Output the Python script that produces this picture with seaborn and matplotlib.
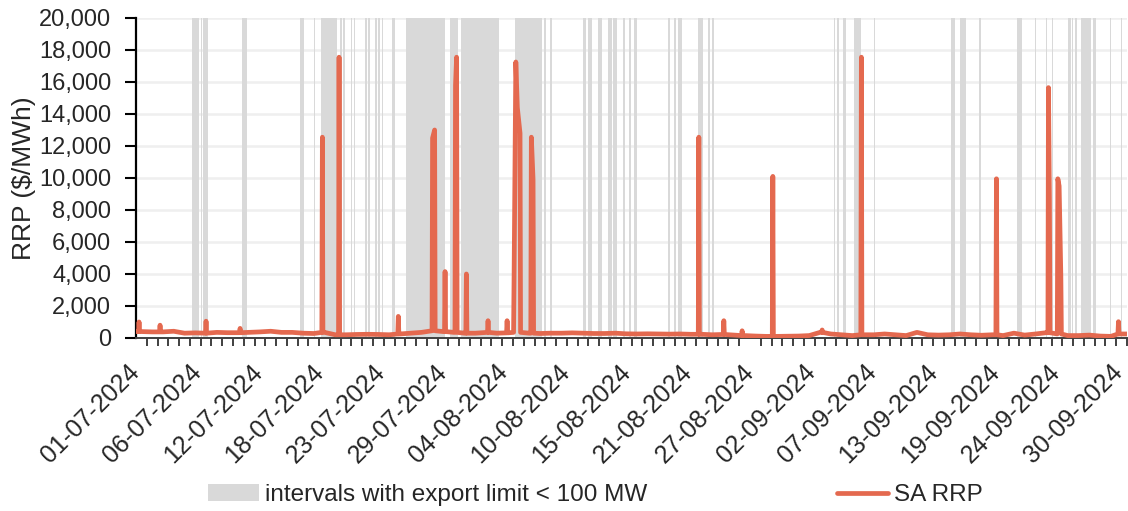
import numpy as np
import pandas as pd
import matplotlib
matplotlib.use("Agg")
import matplotlib.pyplot as plt
from matplotlib.patches import Patch
from matplotlib.lines import Line2D
from matplotlib.ticker import FuncFormatter, MultipleLocator
import seaborn as sns

# ---- data (days counted from 01-07-2024 00:00) ----
# typical SA regional reference price level for each day, $/MWh
daily_rrp = [400, 380, 380, 420, 300, 320, 300, 350, 330, 330,
             350, 380, 420, 350, 350, 300, 280, 350, 200, 200,
             220, 230, 220, 200, 250, 300, 350, 450, 400, 350,
             300, 300, 350, 300, 320, 350, 300, 280, 300, 300,
             320, 300, 280, 280, 300, 260, 250, 260, 250, 240,
             250, 230, 230, 200, 220, 180, 150, 120, 100, 100,
             110, 120, 150, 350, 250, 200, 150, 200, 200, 250,
             200, 150, 350, 200, 180, 200, 250, 200, 170, 200,
             150, 300, 180, 250, 330, 250, 150, 150, 180, 120,
             100, 250]

# price spikes: time (day) and peak price
spike_day = [0.28, 2.23, 6.50, 9.66, 17.30, 18.85, 24.35,
             27.53, 27.72, 28.69, 29.66, 29.76, 30.67, 32.68, 34.45,
             35.10, 35.26, 35.40, 35.65, 36.70, 36.86,
             52.25, 54.57, 56.27, 59.12, 63.70, 67.34, 79.88,
             84.71, 84.80, 85.58, 85.70, 85.86, 91.21]
spike_rrp = [1000, 800, 1050, 600, 12550, 17550, 1350,
             12500, 13000, 4150, 15800, 17550, 4000, 1080, 1080,
             4000, 17250, 14400, 12800, 12550, 9900,
             12550, 1080, 450, 10100, 500, 17550, 9950,
             15650, 8800, 9950, 9500, 3850, 1020]

# intervals with SA export limit below 100 MW (start day, end day)
limit_start = [5.23, 6.04, 6.22, 9.87, 15.26, 16.56, 17.15, 18.94, 19.25,
               19.94, 20.24, 21.26, 21.57, 22.19, 22.50, 22.81, 23.74,
               25.07, 29.15, 30.18, 35.19, 37.91, 38.44, 41.53, 41.99,
               42.92, 43.85, 44.32, 45.25, 45.78, 46.27, 49.42, 49.98,
               50.35, 52.21, 53.08, 53.51, 64.81, 65.06, 65.62, 66.67,
               68.52, 74.17, 75.70, 76.12, 76.51, 78.25, 81.77, 83.47,
               84.49, 85.05, 86.56, 86.91, 87.19, 87.71, 88.83, 90.44,
               91.43]
limit_end = [5.85, 6.13, 6.71, 10.28, 15.60, 16.65, 18.64, 19.10, 19.41,
             20.08, 20.36, 21.42, 21.73, 22.35, 22.66, 22.96, 24.05,
             28.69, 29.87, 33.70, 37.67, 38.04, 38.60, 41.76, 42.31,
             43.24, 44.22, 44.63, 45.40, 45.96, 46.49, 49.61, 50.17,
             50.67, 52.67, 53.30, 53.64, 64.93, 65.24, 65.92, 67.27,
             68.56, 74.21, 76.04, 76.16, 77.07, 78.43, 82.27, 83.57,
             84.59, 85.17, 86.79, 87.03, 87.34, 88.64, 89.14, 90.56,
             91.55]

tick_labels = ["01-07-2024", "06-07-2024", "12-07-2024", "18-07-2024",
               "23-07-2024", "29-07-2024", "04-08-2024", "10-08-2024",
               "15-08-2024", "21-08-2024", "27-08-2024", "02-09-2024",
               "07-09-2024", "13-09-2024", "19-09-2024", "24-09-2024",
               "30-09-2024"]

# ---- assemble the price series ----
spikes = sorted(zip(spike_day, spike_rrp))
clusters = []
for t, v in spikes:
    if clusters and t - clusters[-1][-1][0] < 0.3:
        clusters[-1].append((t, v))
    else:
        clusters.append([(t, v)])

foot = 0.05
windows = [(c[0][0] - foot, c[-1][0] + foot) for c in clusters]
pts = []
for d, v in enumerate(daily_rrp):
    t = d + 0.5
    if not any(a <= t <= b for a, b in windows):
        pts.append((t, v))
pts.append((0.0, daily_rrp[0]))
pts.append((92.0, daily_rrp[-1]))
for c in clusters:
    pts.append((c[0][0] - foot, daily_rrp[int(c[0][0])]))
    pts.extend(c)
    pts.append((c[-1][0] + foot, daily_rrp[int(c[-1][0])]))
series = pd.DataFrame(sorted(pts), columns=["day", "rrp"])

# ---- figure ----
sns.set_theme(style="white")
plt.rcParams["font.family"] = ["Liberation Sans", "DejaVu Sans"]

ORANGE = "#E4694F"
GREY = "#D9D9D9"

fig = plt.figure(figsize=(11.28, 5.11), dpi=100)
ax = fig.add_axes([0.1206, 0.3386, 0.8785, 0.6262])

for a, b in zip(limit_start, limit_end):
    ax.axvspan(a, b, color=GREY, lw=0, zorder=1)

sns.lineplot(data=series, x="day", y="rrp", color=ORANGE, linewidth=3.4,
             ax=ax, zorder=3, sort=True, estimator=None)
for ln in ax.lines:
    ln.set_solid_joinstyle("round")
    ln.set_solid_capstyle("round")

ax.set_xlim(0, 92)
ax.set_ylim(0, 20000)
ax.yaxis.set_major_locator(MultipleLocator(2000))
ax.yaxis.set_major_formatter(FuncFormatter(lambda v, p: f"{v:,.0f}"))
ax.grid(axis="y", color="#EFEFEF", linewidth=1.8, zorder=0)
ax.grid(axis="x", visible=False)
ax.set_axisbelow(True)

# label positions spread evenly along the axis, daily tick marks
step = 91.2 / (len(tick_labels) - 1)
ax.set_xticks([i * step for i in range(len(tick_labels))])
ax.set_xticklabels(tick_labels, rotation=45, ha="right", va="center",
                   rotation_mode="anchor", fontsize=18)
ax.set_xticks(np.arange(0, 93, 1), minor=True)
ax.tick_params(axis="x", which="major", length=0, pad=22)
ax.tick_params(axis="x", which="minor", length=6, width=1.4,
               color="#404040", direction="out", bottom=True)
ax.tick_params(axis="y", which="major", length=8, width=1.5, color="black",
               direction="out", left=True, labelsize=17, pad=10)
for lbl in ax.get_xticklabels():
    lbl.set_clip_on(False)

for s in ["top", "right"]:
    ax.spines[s].set_visible(False)
ax.spines["left"].set_color("black")
ax.spines["left"].set_linewidth(1.6)
ax.spines["bottom"].set_color("#404040")
ax.spines["bottom"].set_linewidth(1.4)

ax.set_xlabel("")
ax.set_ylabel("RRP ($/MWh)", fontsize=19, labelpad=2)

handles = [Patch(facecolor=GREY, edgecolor="none"),
           Line2D([0], [0], color=ORANGE, linewidth=3.4)]
fig.legend(handles, ["intervals with export limit < 100 MW", "SA RRP"],
           loc="center", bbox_to_anchor=(0.528, 0.031), ncol=2,
           frameon=False, fontsize=17.5, handlelength=2.1,
           handletextpad=0.25, columnspacing=7.8)

fig.savefig("out.png", dpi=100)
